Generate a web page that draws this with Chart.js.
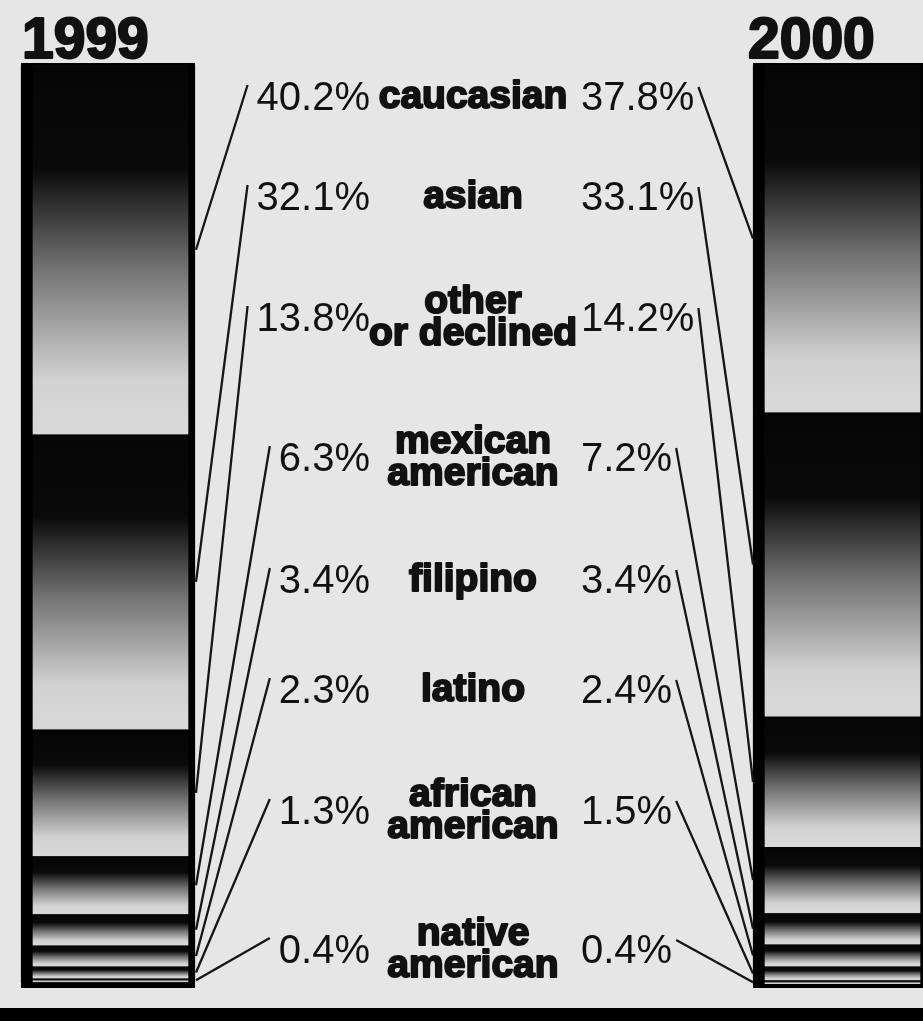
<!DOCTYPE html>
<html>
<head>
<meta charset="utf-8">
<script src="https://cdn.jsdelivr.net/npm/chart.js@4.4.1/dist/chart.umd.min.js"></script>
<style>
  html, body { margin: 0; padding: 0; background: #e6e6e6; }
  #wrap { width: 923px; height: 1021px; position: relative; }
</style>
</head>
<body>
<div id="wrap"><canvas id="chart"></canvas></div>
<script>
const years = ['1999', '2000'];
const groups = [
  ['caucasian'], ['asian'], ['other', 'or declined'], ['mexican', 'american'],
  ['filipino'], ['latino'], ['african', 'american'], ['native', 'american']
];
const share1999 = [40.2, 32.1, 13.8, 6.3, 3.4, 2.3, 1.3, 0.4];
const share2000 = [37.8, 33.1, 14.2, 7.2, 3.4, 2.4, 1.5, 0.4];

// where each label row sits (px from top)
const rowY = [97, 197, 318, 458, 580, 690, 811, 950];

const INK = '#111';
const BG = '#e6e6e6';

// each segment: solid black on top fading to pale grey at the bottom
function segmentFill(ctx) {
  const chart = ctx.chart;
  const y = chart.scales.y;
  if (!y || ctx.type !== 'data') return '#000';
  const di = ctx.datasetIndex, i = ctx.dataIndex;
  let start = 0;
  for (let k = 0; k < di; k++) start += chart.data.datasets[k].data[i];
  const end = start + chart.data.datasets[di].data[i];
  const y0 = y.getPixelForValue(start), y1 = y.getPixelForValue(end);
  if (!isFinite(y0) || !isFinite(y1) || y1 - y0 < 0.5) return '#000';
  const g = chart.ctx.createLinearGradient(0, y0, 0, y1);
  g.addColorStop(0, '#050505');
  g.addColorStop(0.28, '#0a0a0a');
  g.addColorStop(0.55, '#727272');
  g.addColorStop(0.85, '#d2d2d2');
  g.addColorStop(1, '#d9d9d9');
  return g;
}

function heavyText(c, s, x, y, font, stroke) {
  c.font = font;
  c.lineWidth = stroke;
  c.lineJoin = 'round';
  if (stroke > 0) c.strokeText(s, x, y);
  c.fillText(s, x, y);
}

const backdrop = {
  id: 'backdrop',
  beforeDraw(chart) {
    const c = chart.ctx;
    c.save();
    c.fillStyle = BG;
    c.fillRect(0, 0, chart.width, chart.height);
    c.restore();
  },
  beforeDatasetsDraw(chart) {
    // black frame behind each stacked bar
    const c = chart.ctx, y = chart.scales.y;
    const meta = chart.getDatasetMeta(0);
    c.save();
    c.fillStyle = '#000';
    meta.data.forEach(el => {
      const top = y.getPixelForValue(0) - 2;
      const bot = y.getPixelForValue(100) + 4;
      c.fillRect(el.x - el.width / 2, top, el.width, bot - top);
    });
    c.restore();
  },
  afterDraw(chart) {
    const c = chart.ctx;
    c.save();
    c.fillStyle = '#000';
    c.fillRect(0, 1008, chart.width, chart.height - 1008);
    c.restore();
  }
};

const labels = {
  id: 'labels',
  afterDatasetsDraw(chart) {
    const c = chart.ctx;
    const first = chart.getDatasetMeta(0).data;
    c.save();
    c.fillStyle = INK;
    c.strokeStyle = INK;

    // years over the bars
    c.textAlign = 'left';
    c.textBaseline = 'alphabetic';
    years.forEach((yr, i) => {
      const el = first[i];
      heavyText(c, yr, el.x - el.width / 2 + (i === 0 ? 1 : -5), 58, 'bold 57px "Liberation Sans", Arial, sans-serif', 2.2);
    });

    const nameX = 473;
    const leftValX = 370;
    const rightValX = 581;
    const pctFont = '40px "Liberation Sans", Arial, sans-serif';
    const nameFont = 'bold 39px "Liberation Sans", Arial, sans-serif';

    groups.forEach((lines, k) => {
      const ry = rowY[k];
      // group name
      c.textAlign = 'center';
      c.textBaseline = 'middle';
      c.fillStyle = INK;
      c.strokeStyle = INK;
      if (lines.length === 1) {
        heavyText(c, lines[0], nameX, ry, nameFont, 2);
      } else {
        heavyText(c, lines[0], nameX, ry - 16, nameFont, 2);
        heavyText(c, lines[1], nameX, ry + 16, nameFont, 2);
      }

      // percentages
      c.font = pctFont;
      const t99 = share1999[k].toFixed(1) + '%';
      const t00 = share2000[k].toFixed(1) + '%';
      c.textAlign = 'right';
      c.fillText(t99, leftValX, ry + 2);
      c.textAlign = 'left';
      c.fillText(t00, rightValX, ry + 2);
      const w99 = c.measureText(t99).width;
      const w00 = c.measureText(t00).width;

      // leader lines to the middle of each segment
      const meta = chart.getDatasetMeta(k);
      const a = meta.data[0], b = meta.data[1];
      c.lineWidth = 2.3;
      c.strokeStyle = '#161616';
      c.beginPath();
      c.moveTo(leftValX - w99 - 9, ry - 12);
      c.lineTo(a.x + a.width / 2 + 1, (a.y + a.base) / 2);
      c.moveTo(rightValX + w00 + 4, ry - 10);
      c.lineTo(b.x - b.width / 2, (b.y + b.base) / 2);
      c.stroke();
    });
    c.restore();
  }
};

const datasets = groups.map((lines, k) => ({
  label: lines.join(' '),
  data: [share1999[k], share2000[k]],
  backgroundColor: segmentFill,
  borderColor: '#000',
  borderWidth: { left: 12, right: 7, top: 0, bottom: 0 },
  borderSkipped: false,
  barThickness: 174,
  clip: false
}));

new Chart(document.getElementById('chart'), {
  type: 'bar',
  data: { labels: years, datasets: datasets },
  options: {
    responsive: true,
    maintainAspectRatio: false,
    animation: false,
    layout: { padding: { top: 65, bottom: 37, left: 108, right: 83 } },
    scales: {
      x: { type: 'category', stacked: true, offset: false, display: false },
      y: { stacked: true, reverse: true, min: 0, max: 100, display: false }
    },
    plugins: {
      legend: { display: false },
      tooltip: { enabled: false }
    }
  },
  plugins: [backdrop, labels]
});
</script>
</body>
</html>
